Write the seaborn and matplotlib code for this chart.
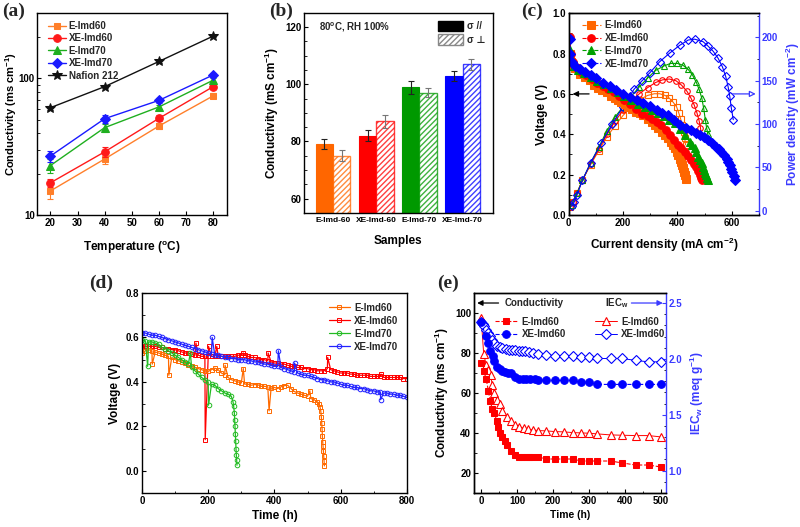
import numpy as np
import pandas as pd
import matplotlib
matplotlib.use("Agg")
import matplotlib.pyplot as plt
from matplotlib.patches import Patch
from matplotlib.ticker import NullFormatter, FixedLocator
import seaborn as sns

# ---------------- data ----------------
# (a)
temps = [20, 40, 60, 80]
a_E60 = [15.0, 25.7, 44.8, 74.5]
a_XE60 = [17.2, 29.0, 51.0, 87.0]
a_E70 = [23.0, 43.6, 61.8, 97.0]
a_XE70 = [27.0, 50.7, 69.0, 106.0]
a_naf = [61.0, 87.0, 133.0, 204.0]
a_err_E60 = [1.8, 2.2, 2.5, 3.0]
a_err_XE60 = [1.2, 2.2, 2.5, 3.0]
a_err_E70 = [2.6, 3.0, 2.5, 3.0]
a_err_XE70 = [2.6, 3.5, 3.0, 3.0]
a_err_naf = [2.0, 2.0, 3.0, 3.0]
a_names = ['E-Imd60', 'XE-Imd60', 'E-Imd70', 'XE-Imd70', 'Nafion 212']

# (b)
b_samples = ['E-Imd-60', 'XE-Imd-60', 'E-Imd-70', 'XE-Imd-70']
b_par = [79, 82, 99, 103]
b_perp = [75, 87, 97, 107]
b_par_err = [1.8, 2.0, 2.3, 1.8]
b_perp_err = [2.0, 2.2, 1.6, 2.0]

# (c) polarization: voltage
c_I_E60 = [3, 8, 15, 22, 41, 60, 77, 93, 108, 124, 139, 154, 169, 182, 194, 207, 219, 234, 249, 262, 274,
           290, 305, 317, 329, 342, 354, 365, 376, 384, 391, 397, 403, 408, 413, 417, 421, 424, 427, 430]
c_V_E60 = [0.80, 0.76, 0.74, 0.726, 0.70, 0.685, 0.668, 0.645, 0.627, 0.617, 0.607, 0.592, 0.578, 0.57,
           0.561, 0.548, 0.536, 0.523, 0.511, 0.503, 0.495, 0.478, 0.462, 0.445, 0.429, 0.412, 0.396, 0.38,
           0.363, 0.347, 0.33, 0.313, 0.297, 0.28, 0.264, 0.247, 0.231, 0.214, 0.198, 0.177]
c_I_XE60 = [4, 8, 14, 25, 45, 65, 85, 105, 125, 145, 165, 185, 205, 225, 247, 270, 290, 307, 325, 341,
            357, 372, 388, 403, 415, 427, 440, 452, 462, 470, 477, 483, 487, 489]
c_V_XE60 = [0.88, 0.80, 0.76, 0.735, 0.71, 0.695, 0.675, 0.655, 0.64, 0.625, 0.61, 0.59, 0.57, 0.55,
            0.525, 0.50, 0.49, 0.478, 0.462, 0.446, 0.421, 0.396, 0.372, 0.347, 0.33, 0.313, 0.293, 0.272,
            0.255, 0.239, 0.22, 0.198, 0.185, 0.173]
c_I_E70 = [5, 10, 20, 35, 55, 80, 105, 130, 155, 180, 205, 230, 255, 280, 305, 329, 350, 370, 391, 410,
           427, 446, 455, 464, 470, 476, 483, 489, 494, 499, 503, 507, 510, 513]
c_V_E70 = [0.82, 0.77, 0.74, 0.72, 0.705, 0.685, 0.665, 0.65, 0.63, 0.61, 0.59, 0.57, 0.55, 0.535, 0.52,
           0.505, 0.49, 0.47, 0.454, 0.425, 0.395, 0.363, 0.347, 0.33, 0.31, 0.289, 0.272, 0.256, 0.24,
           0.223, 0.21, 0.198, 0.185, 0.173]
c_I_XE70 = [3, 6, 12, 22, 40, 60, 80, 100, 126, 150, 175, 200, 225, 250, 275, 300, 325, 345, 366, 388,
            409, 430, 450, 470, 483, 498, 513, 528, 544, 553, 562, 572, 581, 587, 593, 599, 603, 607, 612]
c_V_XE70 = [0.87, 0.80, 0.76, 0.74, 0.725, 0.71, 0.695, 0.68, 0.655, 0.64, 0.62, 0.60, 0.585, 0.57,
            0.555, 0.54, 0.52, 0.505, 0.495, 0.47, 0.446, 0.43, 0.42, 0.405, 0.396, 0.385, 0.371, 0.355,
            0.338, 0.325, 0.313, 0.297, 0.28, 0.263, 0.247, 0.23, 0.213, 0.195, 0.173]
# (c) power density
c_PI_E60 = [5, 15, 30, 50, 80, 110, 140, 170, 200, 230, 260, 290, 315, 335, 355, 370, 385, 397, 405, 412,
            418, 423, 427, 430]
c_P_E60 = [4, 10, 20, 35, 53, 69, 85, 98, 110, 120, 128, 133, 135, 135, 133, 130, 125, 120, 113, 106, 99,
           91, 84, 76]
c_PI_XE60 = [5, 15, 30, 50, 80, 110, 140, 170, 200, 230, 260, 290, 320, 345, 370, 395, 415, 435, 450, 462,
             472, 480, 485, 489]
c_P_XE60 = [4, 10, 20, 35, 54, 71, 88, 103, 116, 127, 135, 142, 148, 151, 152, 150, 145, 138, 130, 122,
            113, 104, 96, 86]
c_PI_E70 = [10, 30, 50, 80, 110, 140, 170, 200, 230, 260, 290, 320, 350, 375, 400, 420, 440, 455, 470,
            480, 490, 497, 503, 508, 513]
c_P_E70 = [7, 20, 35, 55, 73, 92, 108, 120, 132, 143, 153, 162, 167, 170, 170, 168, 163, 157, 148, 140,
           130, 118, 105, 95, 88]
c_PI_XE70 = [10, 20, 30, 50, 80, 120, 160, 200, 240, 270, 298, 335, 372, 409, 440, 464, 495, 513, 532,
             550, 566, 578, 587, 593, 599, 606]
c_P_XE70 = [5, 10, 18, 35, 55, 78, 100, 120, 140, 150, 159, 172, 182, 191, 197, 198, 195, 190, 184, 176,
            166, 155, 143, 132, 118, 105]
c_names = ['E-Imd60', 'XE-Imd60', 'E-Imd70', 'XE-Imd70']

# (d) durability: base curves (every 10 h) + isolated spikes
d_t_XE70 = list(range(0, 810, 10))
d_v_XE70 = [0.62, 0.62, 0.615, 0.61, 0.61, 0.605, 0.60, 0.595, 0.59, 0.585, 0.58, 0.575, 0.57, 0.565,
            0.56, 0.555, 0.55, 0.545, 0.54, 0.535, 0.53, 0.525, 0.52, 0.52, 0.515, 0.51, 0.51, 0.505, 0.505,
            0.50, 0.50, 0.50, 0.495, 0.495, 0.49, 0.49, 0.485, 0.48, 0.48, 0.475, 0.47, 0.47, 0.465, 0.46,
            0.455, 0.45, 0.445, 0.44, 0.435, 0.43, 0.43, 0.425, 0.42, 0.415, 0.41, 0.41, 0.405, 0.40, 0.40,
            0.395, 0.39, 0.385, 0.385, 0.38, 0.375, 0.375, 0.37, 0.37, 0.365, 0.36, 0.36, 0.355, 0.355,
            0.35, 0.35, 0.345, 0.345, 0.34, 0.34, 0.335, 0.33]
d_st_XE70 = [212, 412, 461, 721]
d_sv_XE70 = [0.60, 0.54, 0.485, 0.32]

d_t_XE60 = list(range(0, 810, 10))
d_v_XE60 = [0.555, 0.56, 0.56, 0.56, 0.56, 0.555, 0.555, 0.55, 0.55, 0.545, 0.545, 0.54, 0.535, 0.53,
            0.53, 0.525, 0.52, 0.52, 0.515, 0.515, 0.515, 0.515, 0.515, 0.515, 0.515, 0.515, 0.515, 0.515,
            0.515, 0.52, 0.52, 0.52, 0.515, 0.51, 0.51, 0.505, 0.50, 0.50, 0.495, 0.49, 0.485, 0.485, 0.48,
            0.48, 0.475, 0.47, 0.47, 0.465, 0.465, 0.46, 0.46, 0.455, 0.455, 0.45, 0.45, 0.45, 0.46, 0.455,
            0.45, 0.445, 0.44, 0.44, 0.44, 0.435, 0.435, 0.43, 0.43, 0.43, 0.43, 0.425, 0.425, 0.425, 0.425,
            0.42, 0.42, 0.42, 0.42, 0.42, 0.42, 0.415, 0.415]
d_st_XE60 = [163, 191, 201, 226, 306, 381, 561, 722]
d_sv_XE60 = [0.575, 0.14, 0.56, 0.56, 0.53, 0.53, 0.51, 0.435]

d_t_E60 = list(range(0, 540, 10)) + [535, 538, 540, 542, 543, 544, 545, 546, 547, 548, 549, 550, 551]
d_v_E60 = [0.53, 0.54, 0.545, 0.54, 0.535, 0.53, 0.525, 0.52, 0.515, 0.51, 0.50, 0.495, 0.49, 0.485,
           0.475, 0.47, 0.465, 0.46, 0.455, 0.45, 0.447, 0.455, 0.462, 0.455, 0.44, 0.432, 0.42, 0.41,
           0.405, 0.40, 0.395, 0.39, 0.39, 0.385, 0.388, 0.387, 0.38, 0.38, 0.378, 0.372, 0.375, 0.37,
           0.378, 0.383, 0.385, 0.37, 0.357, 0.35, 0.345, 0.34, 0.335, 0.325, 0.32, 0.31,
           0.30, 0.285, 0.27, 0.24, 0.215, 0.19, 0.155, 0.13, 0.11, 0.09, 0.065, 0.045, 0.022]
d_st_E60 = [31, 81, 251, 306, 384, 507]
d_sv_E60 = [0.48, 0.43, 0.475, 0.46, 0.27, 0.36]

d_t_E70 = list(range(0, 280, 10)) + [275, 277, 279, 280, 281, 282, 283, 284, 285, 286, 287]
d_v_E70 = [0.59, 0.585, 0.58, 0.58, 0.575, 0.57, 0.555, 0.55, 0.54, 0.53, 0.52, 0.51, 0.50, 0.49, 0.48,
           0.465, 0.45, 0.435, 0.42, 0.41, 0.40, 0.39, 0.385, 0.37, 0.36, 0.35, 0.345, 0.335,
           0.31, 0.29, 0.26, 0.23, 0.20, 0.165, 0.135, 0.10, 0.07, 0.05, 0.025]
d_st_E70 = [17, 146, 201]
d_sv_E70 = [0.47, 0.53, 0.295]
d_names = ['E-Imd60', 'XE-Imd60', 'E-Imd70', 'XE-Imd70']

# (e) stability
e_t_cE60 = [0, 7, 14, 20, 25, 31, 36, 44, 48, 53, 59, 67, 72, 83, 95, 105, 114, 124, 133, 142, 158,
            181, 204, 230, 254, 277, 300, 323, 360, 393, 430, 466, 500]
e_c_E60 = [75, 71, 67, 61, 56, 52, 50, 46, 43, 40, 38, 36, 34, 31, 29, 28, 28, 28, 28, 28, 28,
           27, 27, 27, 27, 26, 26, 26, 26, 25, 24, 24, 23]
e_t_cXE60 = [0, 12, 20, 25, 32, 37, 44, 51, 59, 65, 74, 83, 93, 104, 116, 126, 135, 149, 158,
             181, 204, 230, 254, 277, 300, 323, 360, 393, 430, 466, 500]
e_c_XE60 = [95.4, 88.7, 85.1, 81.1, 78.4, 76.2, 73.1, 72.1, 71.2, 70.6, 70.1, 70.1, 68.1, 67.1, 67.1,
            67.1, 67.1, 67.1, 66.3, 66.3, 66.3, 66.3, 66.3, 65.3, 65.3, 64.3, 64.3, 64.3, 64.3, 64.3, 64.3]
e_t_iE60 = [0, 7, 14, 20, 26, 31, 37, 44, 51, 59, 71, 83, 95, 105, 118, 130, 144, 158, 181, 204, 230,
            254, 277, 300, 323, 360, 393, 430, 466, 500]
e_i_E60 = [2.363, 2.043, 1.947, 1.902, 1.852, 1.768, 1.699, 1.634, 1.598, 1.538, 1.484, 1.442, 1.412,
           1.394, 1.380, 1.371, 1.365, 1.359, 1.356, 1.350, 1.347, 1.341, 1.338, 1.335, 1.329, 1.320,
           1.317, 1.314, 1.314, 1.302]
e_t_iXE60 = [0, 5, 9, 14, 20, 25, 31, 36, 44, 51, 59, 68, 77, 86, 95, 105, 114, 123, 134, 145, 158,
             181, 204, 230, 254, 277, 300, 323, 360, 393, 430, 466, 500]
e_i_XE60 = [2.327, 2.315, 2.291, 2.261, 2.231, 2.201, 2.171, 2.141, 2.118, 2.103, 2.094, 2.088, 2.082,
            2.082, 2.076, 2.070, 2.067, 2.067, 2.061, 2.052, 2.043, 2.037, 2.028, 2.022, 2.022, 2.013,
            2.013, 2.004, 2.004, 2.004, 1.986, 1.974, 1.974]

# ---------------- style ----------------
sns.set_style("ticks")
plt.rcParams['font.family'] = ['Liberation Sans', 'DejaVu Sans']
plt.rcParams['font.weight'] = 'bold'
plt.rcParams['axes.labelweight'] = 'bold'
plt.rcParams['mathtext.fontset'] = 'custom'
plt.rcParams['mathtext.rm'] = 'Liberation Sans:bold'
plt.rcParams['mathtext.it'] = 'Liberation Sans:bold:italic'
plt.rcParams['mathtext.bf'] = 'Liberation Sans:bold'
plt.rcParams['mathtext.default'] = 'rm'
plt.rcParams['xtick.direction'] = 'in'
plt.rcParams['ytick.direction'] = 'in'
plt.rcParams['axes.linewidth'] = 1.0
plt.rcParams['axes.edgecolor'] = 'black'
plt.rcParams['xtick.color'] = 'black'
plt.rcParams['ytick.color'] = 'black'
plt.rcParams['axes.labelcolor'] = 'black'

TICK = 7
LAB = 8.5
BLUE_AX = '#3B3BFF'

fig = plt.figure(figsize=(8, 5.27), dpi=100)


def style_ax(ax):
    ax.tick_params(labelsize=TICK, length=3, width=0.8, pad=2)
    ax.tick_params(which='minor', length=1.8, width=0.6)
    for s in ax.spines.values():
        s.set_visible(True)
        s.set_linewidth(1.0)


# ---------------- (a) ----------------
ax = fig.add_axes([0.046, 0.592, 0.2375, 0.383])
a_series = [a_E60, a_XE60, a_E70, a_XE70, a_naf]
a_errs = [a_err_E60, a_err_XE60, a_err_E70, a_err_XE70, a_err_naf]
a_colors = ['#FF7F2A', '#FF1A1A', '#1FAF1F', '#1A1AFF', '#111111']
a_markers = ['s', 'o', '^', 'D', '*']
a_msize = [5, 5.5, 5.5, 5, 7]
for vals, err, col, mk, ms, nm in zip(a_series, a_errs, a_colors, a_markers, a_msize, a_names):
    sns.lineplot(x=temps, y=vals, ax=ax, color=col, marker=mk, markersize=ms, markeredgecolor=col,
                 linewidth=1.0, label=nm, estimator=None, sort=False)
    ax.errorbar(temps, vals, yerr=err, fmt='none', ecolor=col, elinewidth=0.8, capsize=2.5, capthick=0.8)
ax.set_yscale('log')
ax.set_ylim(10, 300)
ax.set_xlim(15, 85)
ax.yaxis.set_major_locator(FixedLocator([10, 100]))
ax.set_yticklabels(['10', '100'])
ax.yaxis.set_minor_formatter(NullFormatter())
ax.set_xticks([20, 30, 40, 50, 60, 70, 80])
ax.set_xlabel('Temperature ($^{o}$C)', fontsize=LAB, labelpad=8)
ax.set_ylabel('Conductivity (ms cm$^{-1}$)', fontsize=8, labelpad=0)
style_ax(ax)
ax.tick_params(axis='y', pad=1.5)
ax.legend(loc='upper left', bbox_to_anchor=(0.03, 0.99), frameon=False, fontsize=7,
          handlelength=1.8, handletextpad=0.3, labelspacing=0.25, borderaxespad=0.2)

# ---------------- (b) ----------------
ax = fig.add_axes([0.38, 0.596, 0.236, 0.3795])
df_b = pd.DataFrame({'sample': b_samples * 2,
                     'dir': ['par'] * 4 + ['perp'] * 4,
                     'val': b_par + b_perp})
sns.barplot(data=df_b, x='sample', y='val', hue='dir', ax=ax, errorbar=None, width=0.8,
            legend=False, palette=['black', 'white'])
b_colors = ['#FF6600', '#FF0000', '#009900', '#0000FF']
for i, p in enumerate(ax.containers[0]):
    p.set_facecolor(b_colors[i])
    p.set_edgecolor(b_colors[i])
    p.set_linewidth(0.8)
for i, p in enumerate(ax.containers[1]):
    p.set_facecolor('white')
    p.set_edgecolor(b_colors[i])
    p.set_hatch('//////')
    p.set_linewidth(1.0)
    p.set_alpha(0.75)
xs0 = [p.get_x() + p.get_width() / 2 for p in ax.containers[0]]
xs1 = [p.get_x() + p.get_width() / 2 for p in ax.containers[1]]
ax.errorbar(xs0, b_par, yerr=b_par_err, fmt='none', ecolor='#222222', elinewidth=0.8, capsize=2.5,
            capthick=0.8)
ax.errorbar(xs1, b_perp, yerr=b_perp_err, fmt='none', ecolor='#777777', elinewidth=0.8, capsize=2.5,
            capthick=0.8)
ax.set_ylim(55, 125)
ax.set_xlim(-0.675, 3.70)
ax.set_yticks([60, 80, 100, 120])
ax.set_yticks(np.arange(60, 125, 5), minor=True)
ax.set_xlabel('Samples', fontsize=LAB, labelpad=8)
ax.set_ylabel('Conductivity (mS cm$^{-1}$)', fontsize=LAB, labelpad=3)
style_ax(ax)
ax.tick_params(axis='x', length=0, labelsize=6.0, pad=3)
ax.text(0.08, 0.93, '80$^{o}$C, RH 100%', transform=ax.transAxes, fontsize=7, va='center')
hb = [Patch(facecolor='black', edgecolor='black'),
      Patch(facecolor='white', edgecolor='#888888', hatch='//////')]
ax.legend(hb, ['σ //', 'σ ⊥'], loc='upper right', bbox_to_anchor=(0.99, 0.99), frameon=False,
          fontsize=7, handlelength=2.6, handleheight=1.3, handletextpad=0.4, labelspacing=0.3,
          borderaxespad=0.2)

# ---------------- (c) ----------------
ax = fig.add_axes([0.711, 0.592, 0.2375, 0.383])
ax2 = ax.twinx()
c_colors = ['#FF6600', '#FF0000', '#00A000', '#0000FF']
c_markers = ['s', 'o', '^', 'D']
c_V = [(c_I_E60, c_V_E60), (c_I_XE60, c_V_XE60), (c_I_E70, c_V_E70), (c_I_XE70, c_V_XE70)]
c_P = [(c_PI_E60, c_P_E60), (c_PI_XE60, c_P_XE60), (c_PI_E70, c_P_E70), (c_PI_XE70, c_P_XE70)]
for (xi, yv), (pi, pv), col, mk, nm in zip(c_V, c_P, c_colors, c_markers, c_names):
    sns.lineplot(x=pi, y=pv, ax=ax2, color=col, marker=mk, markersize=4, markerfacecolor='none',
                 markeredgecolor=col, markeredgewidth=0.8, linewidth=0.8, estimator=None, sort=False)
    sns.lineplot(x=xi, y=yv, ax=ax, color=col, marker=mk, markersize=5.5 if mk != 'D' else 5,
                 markeredgecolor=col, linewidth=0.8, linestyle='--', label=nm, estimator=None,
                 sort=False)
ax.set_zorder(ax2.get_zorder() + 1)
ax.patch.set_visible(False)
ax.set_xlim(0, 700)
ax.set_ylim(0, 1.0)
ax2.set_ylim(-5, 228)
ax.set_xticks([0, 200, 400, 600])
ax.set_xticks(np.arange(0, 701, 100), minor=True)
ax.set_yticks([0.0, 0.2, 0.4, 0.6, 0.8, 1.0])
ax.set_yticks(np.arange(0, 1.01, 0.1), minor=True)
ax.set_yticklabels(['0.0', '0.2', '0.4', '0.6', '0.8', '1.0'])
ax2.set_yticks([0, 50, 100, 150, 200])
ax2.set_yticks(np.arange(0, 226, 25), minor=True)
ax.set_xlabel('Current density (mA cm$^{-2}$)', fontsize=LAB, labelpad=6)
ax.set_ylabel('Voltage (V)', fontsize=LAB, labelpad=3)
ax2.set_ylabel('Power density (mW cm$^{-2}$)', fontsize=LAB, color=BLUE_AX, labelpad=4)
style_ax(ax)
style_ax(ax2)
ax2.spines['right'].set_color(BLUE_AX)
ax2.tick_params(axis='y', colors=BLUE_AX, labelcolor=BLUE_AX)
ax.spines['right'].set_visible(False)
ax.legend(loc='upper left', bbox_to_anchor=(0.04, 0.995), frameon=False, fontsize=7,
          handlelength=1.9, handletextpad=0.4, labelspacing=0.3, borderaxespad=0.2)
ax.annotate('', xy=(4, 0.6), xytext=(85, 0.6),
            arrowprops=dict(arrowstyle='-|>', color='black', lw=0.9, mutation_scale=8),
            annotation_clip=False)
ax.annotate('', xy=(699, 0.6), xytext=(593, 0.6),
            arrowprops=dict(arrowstyle='-|>', color=BLUE_AX, fc='white', lw=0.9, mutation_scale=9),
            annotation_clip=False)

# ---------------- (d) ----------------
ax = fig.add_axes([0.1775, 0.0645, 0.331, 0.3795])


def merge(t, v, ts, vs):
    pts = sorted(list(zip(t, v)) + list(zip(ts, vs)), key=lambda q: q[0])
    return [q[0] for q in pts], [q[1] for q in pts]


d_sets = [(d_t_E60, d_v_E60, d_st_E60, d_sv_E60, '#FF6A00', 's'),
          (d_t_XE60, d_v_XE60, d_st_XE60, d_sv_XE60, '#FF0000', 's'),
          (d_t_E70, d_v_E70, d_st_E70, d_sv_E70, '#22BB22', 'o'),
          (d_t_XE70, d_v_XE70, d_st_XE70, d_sv_XE70, '#2222FF', 'o')]
d_lines = {}
for (t, v, ts, vs, col, mk), nm in zip(d_sets, d_names):
    tt, vv = merge(t, v, ts, vs)
    d_lines[nm] = (tt, vv, col, mk)
for nm in ['XE-Imd60', 'XE-Imd70', 'E-Imd60', 'E-Imd70']:
    tt, vv, col, mk = d_lines[nm]
    sns.lineplot(x=tt, y=vv, ax=ax, color=col, marker=mk, markersize=3.3, markerfacecolor='none',
                 markeredgecolor=col, markeredgewidth=0.7, linewidth=0.9, estimator=None, sort=False,
                 label=nm)
ax.set_xlim(0, 800)
ax.set_ylim(-0.1, 0.8)
ax.set_xticks([0, 200, 400, 600, 800])
ax.set_xticks(np.arange(0, 801, 100), minor=True)
ax.set_yticks([0.0, 0.2, 0.4, 0.6, 0.8])
ax.set_yticks(np.arange(-0.1, 0.81, 0.1), minor=True)
ax.set_yticklabels(['0.0', '0.2', '0.4', '0.6', '0.8'])
ax.set_xlabel('Time (h)', fontsize=LAB, labelpad=3)
ax.set_ylabel('Voltage (V)', fontsize=LAB, labelpad=3)
style_ax(ax)
h, l = ax.get_legend_handles_labels()
order = [l.index(n) for n in d_names]
ax.legend([h[i] for i in order], [l[i] for i in order], loc='upper right',
          bbox_to_anchor=(0.99, 0.98), frameon=False, fontsize=7, handlelength=2.2,
          handletextpad=0.4, labelspacing=0.3, borderaxespad=0.2)

# ---------------- (e) ----------------
ax = fig.add_axes([0.5925, 0.0645, 0.24, 0.3795])
ax2 = ax.twinx()
sns.lineplot(x=e_t_iE60, y=e_i_E60, ax=ax2, color='#FF0000', marker='^', markersize=5.5,
             markerfacecolor='white', markeredgecolor='#FF0000', markeredgewidth=0.8, linewidth=0.7,
             estimator=None, sort=False, label='E-Imd60')
sns.lineplot(x=e_t_iXE60, y=e_i_XE60, ax=ax2, color='#0000FF', marker='D', markersize=4.8,
             markerfacecolor='white', markeredgecolor='#0000FF', markeredgewidth=0.8, linewidth=0.7,
             estimator=None, sort=False, label='XE-Imd60')
sns.lineplot(x=e_t_cE60, y=e_c_E60, ax=ax, color='#FF0000', marker='s', markersize=5,
             markeredgecolor='#FF0000', linewidth=0.8, linestyle='--', estimator=None, sort=False,
             label='E-Imd60')
sns.lineplot(x=e_t_cXE60, y=e_c_XE60, ax=ax, color='#0000FF', marker='o', markersize=5.5,
             markeredgecolor='#0000FF', linewidth=0.8, linestyle='--', estimator=None, sort=False,
             label='XE-Imd60')
ax.set_zorder(ax2.get_zorder() + 1)
ax.patch.set_visible(False)
ax.set_xlim(-20, 514)
ax.set_ylim(10, 110)
ax2.set_ylim(0.8, 2.59)
ax.set_xticks([0, 100, 200, 300, 400, 500])
ax.set_xticks(np.arange(0, 501, 50), minor=True)
ax.set_yticks([20, 40, 60, 80, 100])
ax.set_yticks(np.arange(10, 111, 10), minor=True)
ax2.set_yticks([1.0, 1.5, 2.0, 2.5])
ax2.set_yticks(np.arange(0.8, 2.6, 0.1), minor=True)
ax2.set_yticklabels(['1.0', '1.5', '2.0', '2.5'])
ax.set_xlabel('Time (h)', fontsize=7.5, labelpad=3)
ax.set_ylabel('Conductivity (ms cm$^{-1}$)', fontsize=LAB, labelpad=3)
ax2.set_ylabel('IEC$_w$ (meq g$^{-1}$)', fontsize=LAB, color=BLUE_AX, labelpad=4)
style_ax(ax)
style_ax(ax2)
ax2.spines['right'].set_color(BLUE_AX)
ax2.tick_params(axis='y', colors=BLUE_AX, labelcolor=BLUE_AX)
ax.spines['right'].set_visible(False)
ax.legend(loc='upper left', bbox_to_anchor=(0.08, 0.91), frameon=False, fontsize=7,
          handlelength=2.3, handletextpad=0.4, labelspacing=0.25, borderaxespad=0.2)
ax2.legend(loc='upper left', bbox_to_anchor=(0.60, 0.91), frameon=False, fontsize=7,
           handlelength=2.3, handletextpad=0.4, labelspacing=0.25, borderaxespad=0.2)
ax.annotate('', xy=(-19, 105), xytext=(56, 105),
            arrowprops=dict(arrowstyle='-|>', color='black', lw=0.9, mutation_scale=8),
            annotation_clip=False)
ax.text(66, 105, 'Conductivity', fontsize=7, va='center', ha='left')
ax.text(345, 105, 'IEC$_w$', fontsize=7, va='center', ha='left')
ax.annotate('', xy=(513, 105), xytext=(410, 105),
            arrowprops=dict(arrowstyle='-|>', color=BLUE_AX, lw=0.9, mutation_scale=8),
            annotation_clip=False)

# ---------------- panel labels ----------------
pl = dict(fontsize=14, fontweight='bold', family=['Liberation Serif', 'DejaVu Serif'], va='top')
fig.text(0.003, 0.995, '(a)', **pl)
fig.text(0.336, 0.995, '(b)', **pl)
fig.text(0.652, 0.995, '(c)', **pl)
fig.text(0.112, 0.478, '(d)', **pl)
fig.text(0.546, 0.478, '(e)', **pl)

fig.savefig('out.png', dpi=100)
